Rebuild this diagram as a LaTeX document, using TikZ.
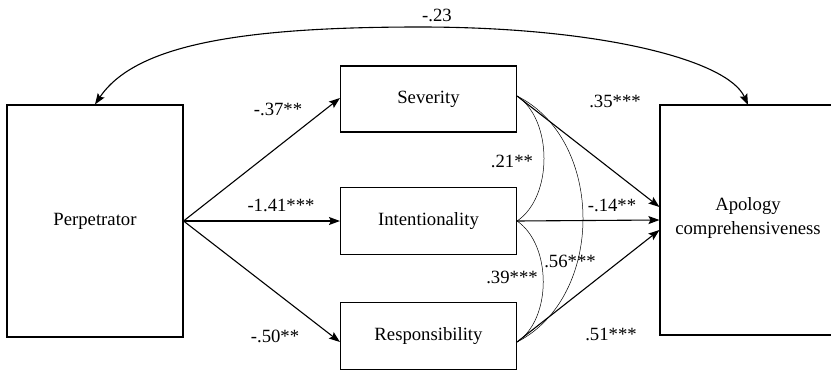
\documentclass[tikz,border=0pt]{standalone}
\usepackage{fontspec}
\setmainfont{Liberation Serif}
\usetikzlibrary{arrows.meta}
\begin{document}
\begin{tikzpicture}[x=1pt,y=-1pt,
  box/.style={draw, line width=1.1pt, rectangle, inner sep=0pt, minimum width=176pt, align=center, font=\fontsize{18.7}{24}\selectfont},
  txt/.style={inner sep=0pt, align=center, font=\fontsize{18.7}{24}\selectfont},
  tip/.tip={Stealth[length=11pt,width=8pt,inset=2pt]},
  arr/.style={line width=1.1pt, -tip},
  biarr/.style={line width=1.1pt, tip-tip},
  corr/.style={line width=0.5pt},
  lab/.style={anchor=base, inner sep=0pt, font=\fontsize{18.7}{22}\selectfont}]
\useasboundingbox (0,0) rectangle (831,370);
\clip (0,0) rectangle (831,370);

\node[box, minimum height=232pt] (perp) at (95,221) {Perpetrator};
\node[box, minimum height=66pt] (sev) at (428.5,99) {Severity};
\node[box, minimum height=67pt] (int) at (428.5,221) {Intentionality};
\node[box, minimum height=67pt] (resp) at (428.5,336) {Responsibility};
\node[box, minimum height=230pt, minimum width=200pt] (apo) at (760,220) {};
\node[txt] (apotext) at (748,218) {Apology\\comprehensiveness};
\coordinate (apotop) at (748,105);

% paths from perpetrator
\draw[arr] (perp.east) -- ([yshift=1pt]sev.west);
\draw[arr] (perp.east) -- (int.west);
\draw[arr] (perp.east) -- ([yshift=-6pt]resp.west);

% paths to apology
\draw[arr] ([yshift=3pt]sev.east) -- ([yshift=13pt]apo.west);
\draw[arr] (int.east) -- (apo.west);
\draw[arr] ([yshift=-6pt]resp.east) -- ([yshift=-10pt]apo.west);

% correlations
\draw[corr] ([yshift=3pt]sev.east) .. controls (553,120) and (553,197) .. (int.east);
\draw[corr] ([yshift=3pt]sev.east) .. controls (605,140) and (605,297) .. ([yshift=-6pt]resp.east);
\draw[corr] (int.east) .. controls (552,245) and (552,319) .. ([yshift=-6pt]resp.east);

% top covariance
\coordinate (peak) at (420,27);
\draw[biarr] (perp.north) .. controls (135,45) and (240,27) .. (peak) .. controls (600,27) and (728,60) .. (apotop);

% labels
\node[lab] (l23) at (437,21) {-.23};
\node[lab] (l37) at (278,115) {-.37**};
\node[lab] (l141) at (281,211) {-1.41***};
\node[lab] (l50) at (275,342) {-.50**};
\node[lab] (l35) at (615,107) {.35***};
\node[lab] (l21) at (512,167) {.21**};
\node[lab] (l14) at (612,211) {-.14**};
\node[lab] (l56) at (570,267) {.56***};
\node[lab] (l39) at (512,283) {.39***};
\node[lab] (l51) at (611,340) {.51***};
\end{tikzpicture}
\end{document}
